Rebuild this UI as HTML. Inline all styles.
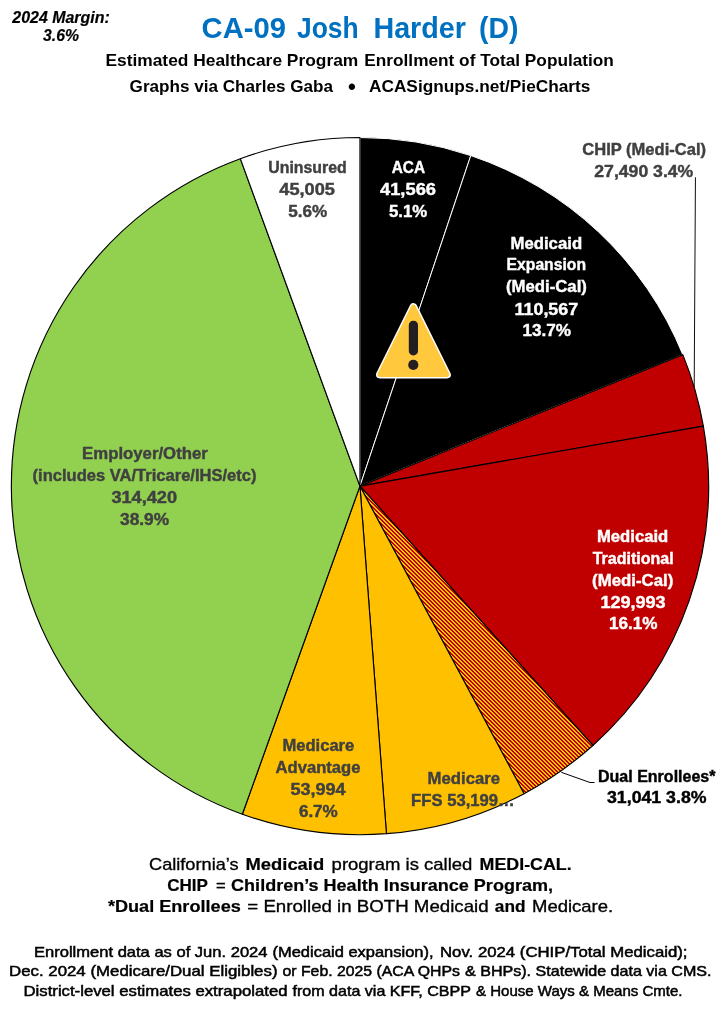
<!DOCTYPE html>
<html><head><meta charset="utf-8"><title>CA-09 Josh Harder (D)</title>
<style>
html,body{margin:0;padding:0;background:#fff;}
svg{display:block}
text{font-family:"Liberation Sans",sans-serif;white-space:pre}
.b{font-weight:bold}
.g{fill:#404040;stroke:#404040}.w{fill:#fff;stroke:#fff}.k{fill:#000;stroke:#000}
text{stroke-width:0}
.s{stroke-width:.4px}.m{stroke-width:.5px}.n{stroke-width:.2px}.r{stroke-width:.32px}
</style></head><body>
<svg width="720" height="1010" viewBox="0 0 720 1010">
<defs>
<pattern id="stripe" patternUnits="userSpaceOnUse" width="4" height="4" x="0" y="0">
<g shape-rendering="crispEdges">
<rect width="4" height="4" fill="#C00000"/>
<rect x="3" y="0" width="1" height="1" fill="#FFC400"/><rect x="0" y="0" width="1" height="1" fill="#FFC400"/>
<rect x="0" y="1" width="2" height="1" fill="#FFC400"/>
<rect x="1" y="2" width="2" height="1" fill="#FFC400"/>
<rect x="2" y="3" width="2" height="1" fill="#FFC400"/>
</g>
</pattern>
</defs>
<rect width="720" height="1010" fill="#fff"/>

<path d="M359.95,486.1 L359.95,137.50 A348.6,348.6 0 0 1 470.77,155.58 Z" fill="#000" stroke="#fff" stroke-width="1" stroke-linejoin="round"/>
<path d="M359.95,486.1 L470.77,155.58 A348.6,348.6 0 0 1 682.81,354.63 Z" fill="#000" stroke="#fff" stroke-width="1" stroke-linejoin="round"/>
<path d="M359.95,486.1 L682.81,354.63 A348.6,348.6 0 0 1 703.36,426.18 Z" fill="#C00000" stroke="#000" stroke-width="1.15" stroke-linejoin="round"/>
<path d="M359.95,486.1 L703.36,426.18 A348.6,348.6 0 0 1 592.88,745.45 Z" fill="#C00000" stroke="#000" stroke-width="1.15" stroke-linejoin="round"/>
<path d="M359.95,486.1 L592.88,745.45 A348.6,348.6 0 0 1 524.07,793.65 Z" fill="url(#stripe)" stroke="#000" stroke-width="1.15" stroke-linejoin="round"/>
<path d="M359.95,486.1 L524.07,793.65 A348.6,348.6 0 0 1 386.46,833.69 Z" fill="#FFC000" stroke="#000" stroke-width="1.15" stroke-linejoin="round"/>
<path d="M359.95,486.1 L386.46,833.69 A348.6,348.6 0 0 1 242.35,814.26 Z" fill="#FFC000" stroke="#000" stroke-width="1.15" stroke-linejoin="round"/>
<path d="M359.95,486.1 L242.35,814.26 A348.6,348.6 0 0 1 240.32,158.67 Z" fill="#92D050" stroke="#000" stroke-width="1.15" stroke-linejoin="round"/>
<path d="M359.95,486.1 L240.32,158.67 A348.6,348.6 0 0 1 359.95,137.50 Z" fill="#fff" stroke="#000" stroke-width="1.15" stroke-linejoin="round"/>
<path d="M695.45,177.3 L694.2,387" stroke="#000" stroke-width="0.95" fill="none"/>
<path d="M561.3,772.3 L590,782.5 L594.5,782.5" stroke="#000" stroke-width="1" fill="none"/>
<g>
<path d="M413.4,307 L447,374.6 L379.8,374.6 Z" fill="#FFC83D" stroke="#fff" stroke-width="7.7" stroke-linejoin="round"/>
<path d="M413.4,307 L447,374.6 L379.8,374.6 Z" fill="#FFC83D" stroke="#FFC83D" stroke-width="4.8" stroke-linejoin="round"/>
<rect x="408.8" y="320.7" width="9.2" height="34.7" rx="4.4" fill="#231F20"/>
<circle cx="413.3" cy="364.9" r="5.1" fill="#231F20"/>
</g>
<text x="12.3" y="22.9" font-size="15.899999999999999" class="b k n" textLength="97.5" lengthAdjust="spacingAndGlyphs" font-style="italic">2024 Margin:</text>
<text x="43.0" y="41.0" font-size="15.899999999999999" class="b k n" textLength="35.9" lengthAdjust="spacingAndGlyphs" font-style="italic">3.6%</text>
<text x="201.6" y="38.3" font-size="30" class="b" textLength="84.3" lengthAdjust="spacingAndGlyphs" fill="#0070C0" stroke="#0070C0" stroke-width="0.5">CA-09</text>
<text x="297.0" y="38.3" font-size="30" class="b" textLength="61.6" lengthAdjust="spacingAndGlyphs" fill="#0070C0" stroke="#0070C0" stroke-width="0.5">Josh</text>
<text x="373.4" y="38.3" font-size="30" class="b" textLength="92.6" lengthAdjust="spacingAndGlyphs" fill="#0070C0" stroke="#0070C0" stroke-width="0.5">Harder</text>
<text x="479.0" y="38.3" font-size="30" class="b" textLength="39.4" lengthAdjust="spacingAndGlyphs" fill="#0070C0" stroke="#0070C0" stroke-width="0.5">(D)</text>
<text x="105.4" y="66.1" font-size="16.4" class="b k" textLength="252.9" lengthAdjust="spacingAndGlyphs">Estimated Healthcare Program</text>
<text x="364.3" y="66.1" font-size="16.4" class="b k" textLength="249.6" lengthAdjust="spacingAndGlyphs">Enrollment of Total Population</text>
<text x="129.6" y="91.6" font-size="16.4" class="b k" textLength="203.4" lengthAdjust="spacingAndGlyphs">Graphs via Charles Gaba</text>
<text x="347.9" y="94.0" font-size="22.4" class="b k" textLength="7.8" lengthAdjust="spacingAndGlyphs">•</text>
<text x="369.0" y="91.6" font-size="16.4" class="b k" textLength="221.4" lengthAdjust="spacingAndGlyphs">ACASignups.net/PieCharts</text>
<text x="268.3" y="172.7" font-size="15.7" class="b g s" textLength="78.4" lengthAdjust="spacingAndGlyphs">Uninsured</text>
<text x="279.3" y="195.0" font-size="15.899999999999999" class="b g s" textLength="55.7" lengthAdjust="spacingAndGlyphs">45,005</text>
<text x="288.3" y="216.7" font-size="15.899999999999999" class="b g s" textLength="39.0" lengthAdjust="spacingAndGlyphs">5.6%</text>
<text x="391.7" y="172.7" font-size="15.7" class="b w s" textLength="33.3" lengthAdjust="spacingAndGlyphs">ACA</text>
<text x="380.0" y="195.0" font-size="15.899999999999999" class="b w s" textLength="56.0" lengthAdjust="spacingAndGlyphs">41,566</text>
<text x="389.0" y="216.7" font-size="15.899999999999999" class="b w s" textLength="38.3" lengthAdjust="spacingAndGlyphs">5.1%</text>
<text x="582.3" y="155.0" font-size="15.7" class="b g s" textLength="123.7" lengthAdjust="spacingAndGlyphs">CHIP (Medi-Cal)</text>
<text x="594.3" y="176.7" font-size="15.899999999999999" class="b g s" textLength="99.0" lengthAdjust="spacingAndGlyphs">27,490 3.4%</text>
<text x="510.5" y="248.8" font-size="15.7" class="b w s" textLength="71.6" lengthAdjust="spacingAndGlyphs">Medicaid</text>
<text x="506.6" y="270.2" font-size="15.7" class="b w s" textLength="79.4" lengthAdjust="spacingAndGlyphs">Expansion</text>
<text x="505.9" y="292.4" font-size="15.7" class="b w s" textLength="81.0" lengthAdjust="spacingAndGlyphs">(Medi-Cal)</text>
<text x="514.6" y="314.7" font-size="15.899999999999999" class="b w s" textLength="63.6" lengthAdjust="spacingAndGlyphs">110,567</text>
<text x="522.4" y="335.9" font-size="15.899999999999999" class="b w s" textLength="48.6" lengthAdjust="spacingAndGlyphs">13.7%</text>
<text x="596.9" y="541.9" font-size="15.7" class="b w s" textLength="71.4" lengthAdjust="spacingAndGlyphs">Medicaid</text>
<text x="592.7" y="563.9" font-size="15.7" class="b w s" textLength="81.0" lengthAdjust="spacingAndGlyphs">Traditional</text>
<text x="592.1" y="585.8" font-size="15.7" class="b w s" textLength="81.3" lengthAdjust="spacingAndGlyphs">(Medi-Cal)</text>
<text x="600.4" y="608.0" font-size="15.899999999999999" class="b w s" textLength="65.2" lengthAdjust="spacingAndGlyphs">129,993</text>
<text x="609.0" y="629.2" font-size="15.899999999999999" class="b w s" textLength="48.6" lengthAdjust="spacingAndGlyphs">16.1%</text>
<text x="82.1" y="458.6" font-size="15.7" class="b g s" textLength="125.7" lengthAdjust="spacingAndGlyphs">Employer/Other</text>
<text x="32.6" y="480.9" font-size="15.7" class="b g s" textLength="223.9" lengthAdjust="spacingAndGlyphs">(includes VA/Tricare/IHS/etc)</text>
<text x="111.4" y="503.0" font-size="15.899999999999999" class="b g s" textLength="65.7" lengthAdjust="spacingAndGlyphs">314,420</text>
<text x="120.0" y="524.7" font-size="15.899999999999999" class="b g s" textLength="49.2" lengthAdjust="spacingAndGlyphs">38.9%</text>
<text x="282.4" y="750.9" font-size="15.7" class="b g s" textLength="71.9" lengthAdjust="spacingAndGlyphs">Medicare</text>
<text x="275.6" y="772.9" font-size="15.7" class="b g s" textLength="84.9" lengthAdjust="spacingAndGlyphs">Advantage</text>
<text x="290.5" y="794.7" font-size="15.899999999999999" class="b g s" textLength="55.1" lengthAdjust="spacingAndGlyphs">53,994</text>
<text x="298.9" y="816.6" font-size="15.899999999999999" class="b g s" textLength="38.9" lengthAdjust="spacingAndGlyphs">6.7%</text>
<text x="427.6" y="784.2" font-size="15.7" class="b g s" textLength="72.4" lengthAdjust="spacingAndGlyphs">Medicare</text>
<text x="411.1" y="805.6" font-size="15.7" class="b g s" textLength="103.6" lengthAdjust="spacingAndGlyphs">FFS 53,199…</text>
<text x="598.0" y="782.2" font-size="15.7" class="b k s" textLength="117.5" lengthAdjust="spacingAndGlyphs">Dual Enrollees*</text>
<text x="607.0" y="803.3" font-size="15.899999999999999" class="b k s" textLength="99.5" lengthAdjust="spacingAndGlyphs">31,041 3.8%</text>
<text x="149.0" y="869.8" font-size="16.4" class="k r" textLength="89.6" lengthAdjust="spacingAndGlyphs">California’s</text>
<text x="245.5" y="869.8" font-size="16.4" class="b k n" textLength="78.7" lengthAdjust="spacingAndGlyphs">Medicaid</text>
<text x="331.6" y="869.8" font-size="16.4" class="k r" textLength="140.8" lengthAdjust="spacingAndGlyphs">program is called</text>
<text x="479.6" y="869.8" font-size="16.4" class="b k n" textLength="92.1" lengthAdjust="spacingAndGlyphs">MEDI-CAL.</text>
<text x="167.2" y="891.1" font-size="16.4" class="b k n" textLength="40.8" lengthAdjust="spacingAndGlyphs">CHIP</text>
<text x="216.0" y="891.1" font-size="16.4" class="k r" textLength="9.7" lengthAdjust="spacingAndGlyphs">=</text>
<text x="231.1" y="891.1" font-size="16.4" class="b k n" textLength="321.9" lengthAdjust="spacingAndGlyphs">Children’s Health Insurance Program,</text>
<text x="107.9" y="912.3" font-size="16.4" class="b k n" textLength="132.9" lengthAdjust="spacingAndGlyphs">*Dual Enrollees</text>
<text x="247.3" y="912.3" font-size="16.4" class="k r" textLength="241.3" lengthAdjust="spacingAndGlyphs">= Enrolled in BOTH Medicaid</text>
<text x="494.8" y="912.3" font-size="16.4" class="b k n" textLength="30.7" lengthAdjust="spacingAndGlyphs">and</text>
<text x="532.0" y="912.3" font-size="16.4" class="k r" textLength="81.2" lengthAdjust="spacingAndGlyphs">Medicare.</text>
<text x="34.0" y="957.0" font-size="14.6" class="k m" textLength="233.5" lengthAdjust="spacingAndGlyphs">Enrollment data as of Jun. 2024</text>
<text x="272.5" y="957.0" font-size="14.6" class="k m" textLength="161.0" lengthAdjust="spacingAndGlyphs">(Medicaid expansion),</text>
<text x="440.0" y="957.0" font-size="14.6" class="k m" textLength="247.5" lengthAdjust="spacingAndGlyphs">Nov. 2024 (CHIP/Total Medicaid);</text>
<text x="9.0" y="976.2" font-size="14.6" class="k m" textLength="268.5" lengthAdjust="spacingAndGlyphs">Dec. 2024 (Medicare/Dual Eligibles)</text>
<text x="282.5" y="976.2" font-size="14.6" class="k m" textLength="177.5" lengthAdjust="spacingAndGlyphs">or Feb. 2025 (ACA QHPs</text>
<text x="465.0" y="976.2" font-size="14.6" class="k m" textLength="246.5" lengthAdjust="spacingAndGlyphs">&amp; BHPs). Statewide data via CMS.</text>
<text x="23.5" y="995.6" font-size="14.6" class="k m" textLength="264.0" lengthAdjust="spacingAndGlyphs">District-level estimates extrapolated</text>
<text x="292.5" y="995.6" font-size="14.6" class="k m" textLength="178.5" lengthAdjust="spacingAndGlyphs">from data via KFF, CBPP</text>
<text x="476.0" y="995.6" font-size="14.6" class="k m" textLength="206.5" lengthAdjust="spacingAndGlyphs">&amp; House Ways &amp; Means Cmte.</text>
</svg></body></html>
